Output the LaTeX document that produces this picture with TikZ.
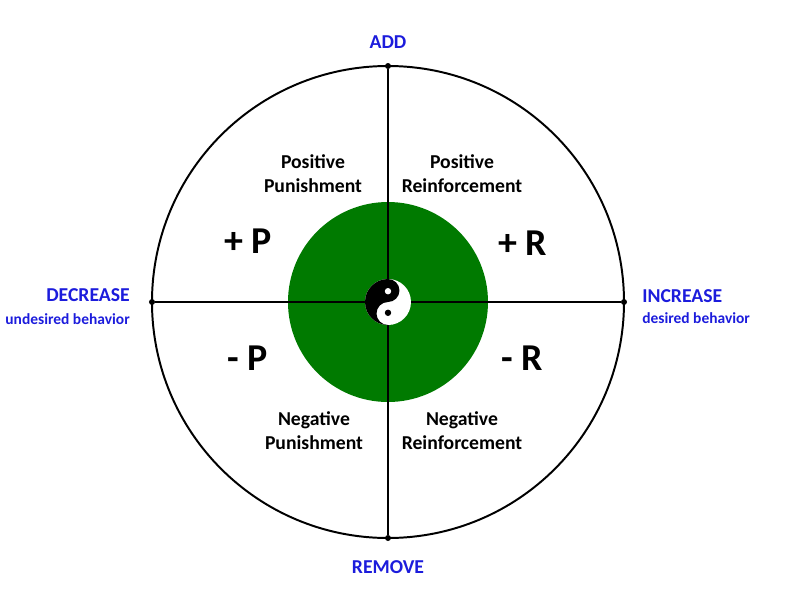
\documentclass[tikz,border=0pt]{standalone}
\usepackage{fontspec}
\setmainfont{Carlito}
\usetikzlibrary{positioning}
\definecolor{axisblue}{RGB}{28,28,220}
\definecolor{centergreen}{RGB}{0,122,0}

\begin{document}
\begin{tikzpicture}[
    axislabel/.style={text=axisblue, inner sep=0pt, font=\fontsize{14}{16}\selectfont\bfseries},
    sublabel/.style={text=axisblue, inner sep=0pt, font=\fontsize{11}{13}\selectfont\bfseries},
    quadlabel/.style={align=center, font=\fontsize{14}{17}\selectfont\bfseries},
    signlabel/.style={font=\fontsize{27}{30}\selectfont\bfseries},
    enddot/.style={circle, fill=black, inner sep=0pt, minimum size=1.5mm}]
    \useasboundingbox (-9.7, -7.45) rectangle (10.3, 7.55);
    \fill [centergreen] (0, 0) circle (2.5);
    \draw [line width=1.4pt] (0, 0) circle (5.9);
    \node [enddot] (top) at (0, 5.9) {};
    \node [enddot] (bottom) at (0, -5.9) {};
    \node [enddot] (left) at (-5.9, 0) {};
    \node [enddot] (right) at (5.9, 0) {};
    \draw [line width=1.1pt] (top) -- (bottom);
    \draw [line width=1.1pt] (left) -- (right);
    % yin yang
    \fill [white] (0, 0) circle (0.575);
    \fill [black] (0, 0.575) arc (90:270:0.575) arc (270:90:0.2875) arc (-90:90:0.2875) -- cycle;
    \fill [white] (0, 0.27) circle (0.08);
    \fill [black] (0, -0.27) circle (0.08);
    % axis labels
    \node [axislabel] (add) at (0, 6.5) {ADD};
    \node [axislabel] (remove) at (0, -6.62) {REMOVE};
    \node [axislabel, anchor=east] (decrease) at (-6.45, 0.17) {DECREASE};
    \node [sublabel, anchor=east] (undesired) at (-6.45, -0.42) {undesired behavior};
    \node [axislabel, anchor=west] (increase) at (6.35, 0.15) {INCREASE};
    \node [sublabel, anchor=west] (desired) at (6.35, -0.4) {desired behavior};
    % quadrants
    \node [quadlabel] (pospun) at (-1.875, 3.2) {Positive\\Punishment};
    \node [quadlabel] (posrein) at (1.85, 3.2) {Positive\\Reinforcement};
    \node [quadlabel] (negpun) at (-1.85, -3.22) {Negative\\Punishment};
    \node [quadlabel] (negrein) at (1.85, -3.22) {Negative\\Reinforcement};
    \node [signlabel] (plusp) at (-3.5, 1.52) {+ P};
    \node [signlabel] (plusr) at (3.37, 1.47) {+ R};
    \node [signlabel] (minusp) at (-3.5, -1.4) {- P};
    \node [signlabel] (minusr) at (3.35, -1.4) {- R};
\end{tikzpicture}
\end{document}
